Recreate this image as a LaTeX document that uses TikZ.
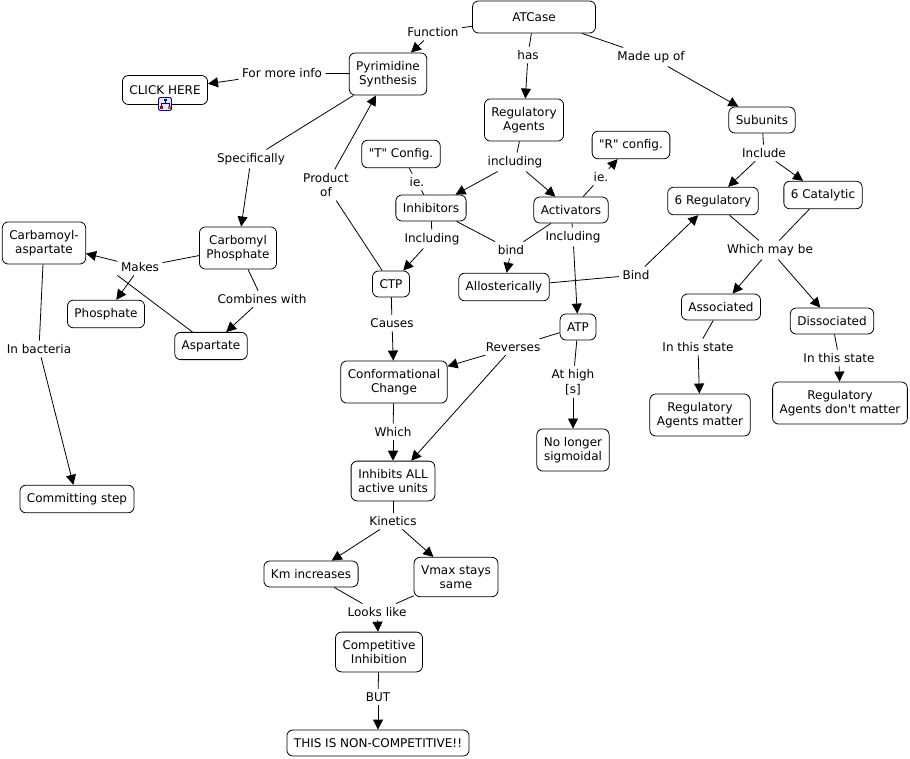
\documentclass[tikz,border=0pt]{standalone}
\usepackage{fontspec}
\setmainfont{DejaVu Sans}
\usetikzlibrary{arrows.meta}
\tikzset{
    concept-box/.style = {draw=black, fill=white, line width=0.8pt, rectangle, rounded corners=6pt, align=center, inner xsep=7pt, inner ysep=8pt, minimum height=26pt, font=\fontsize{12}{14.5}\selectfont},
    link-label/.style = {align=center, inner sep=3.5pt, font=\fontsize{12}{14.5}\selectfont},
    link-line/.style = {line width=0.8pt},
    link-arrow/.style = {line width=0.8pt, -{Triangle[length=10pt,width=10pt]}},
}

\begin{document}
\begin{tikzpicture}[x=1pt,y=-1pt]
\useasboundingbox[fill=white] (0,0) rectangle (910,758);
% concepts
\node[concept-box, minimum width=123pt, minimum height=32pt] (atcase) at (534,17) {ATCase};
\node[concept-box] (pyr) at (388,74) {Pyrimidine\\Synthesis};
\node[concept-box, minimum height=29pt] (click) at (165,90) {CLICK HERE};
\node[concept-box] (regag) at (524,120) {Regulatory\\Agents};
\node[concept-box] (subunits) at (762,120) {Subunits};
\node[concept-box] (tconf) at (401,154) {\textquotedbl T\textquotedbl{} Config.};
\node[concept-box] (rconf) at (631,145) {\textquotedbl R\textquotedbl{} config.};
\node[concept-box] (inhib) at (431,208) {Inhibitors};
\node[concept-box] (activ) at (571,210) {Activators};
\node[concept-box] (sixreg) at (713,201) {6 Regulatory};
\node[concept-box] (sixcat) at (823,195) {6 Catalytic};
\node[concept-box] (carbasp) at (44,243) {Carbamoyl-\\aspartate};
\node[concept-box] (carbph) at (238,248) {Carbomyl\\Phosphate};
\node[concept-box] (allo) at (504,287) {Allosterically};
\node[concept-box] (ctp) at (391,284) {CTP};
\node[concept-box] (phos) at (106,314) {Phosphate};
\node[concept-box] (assoc) at (721,307) {Associated};
\node[concept-box] (dissoc) at (832,321) {Dissociated};
\node[concept-box] (asp) at (211,346) {Aspartate};
\node[concept-box] (atp) at (578,327) {ATP};
\node[concept-box] (confch) at (394,382) {Conformational\\Change};
\node[concept-box] (ramatter) at (700,415) {Regulatory\\Agents matter};
\node[concept-box] (radont) at (840,403) {Regulatory\\Agents don\textquotesingle t matter};
\node[concept-box] (nosig) at (573,450) {No longer\\sigmoidal};
\node[concept-box] (inhall) at (393,481) {Inhibits ALL\\active units};
\node[concept-box] (commit) at (77,499) {Committing step};
\node[concept-box] (km) at (311,574) {Km increases};
\node[concept-box] (vmax) at (456,577) {Vmax stays\\same};
\node[concept-box] (compinh) at (379,652) {Competitive\\Inhibition};
\node[concept-box] (noncomp) at (378,743) {THIS IS NON-COMPETITIVE!!};
% link icon under CLICK HERE
\node[draw=blue!70!black, fill=blue!10, rounded corners=1.5pt, minimum size=13pt, inner sep=0pt, line width=0.8pt] (icon) at (165,104) {};
\draw[blue!50!black, line width=0.6pt] (165,101) -- (165,103) (161,103) -- (169,103) (161,103) -- (161,106) (169,103) -- (169,106);
\fill[blue!50!black] (163.5,98.5) rectangle (166.5,101);
\fill[red!70!black] (159.5,106) rectangle (162.5,109);
\fill[orange!80!black] (167.5,106) rectangle (170.5,109);
% linking phrases
\node[link-label] (function) at (433,32) {Function};
\node[link-label] (has) at (528,55) {has};
\node[link-label] (madeup) at (651,57) {Made up of};
\node[link-label] (moreinfo) at (282,73) {For more info};
\node[link-label] (specif) at (251,159) {Specifically};
\node[link-label] (incl) at (515,162) {including};
\node[link-label] (include) at (764,153) {Include};
\node[link-label] (ieT) at (417,182) {ie.};
\node[link-label] (ieR) at (601,177) {ie.};
\node[link-label] (prodof) at (326,185) {Product\\of};
\node[link-label] (inclctp) at (432,239) {Including};
\node[link-label] (inclatp) at (573,237) {Including};
\node[link-label] (bind) at (511,250) {bind};
\node[link-label] (whichmay) at (770,250) {Which may be};
\node[link-label] (makes) at (140,267) {Makes};
\node[link-label] (bindreg) at (636,275) {Bind};
\node[link-label] (combines) at (262,299) {Combines with};
\node[link-label] (causes) at (392,323) {Causes};
\node[link-label] (reverses) at (513,347) {Reverses};
\node[link-label] (bacteria) at (39,349) {In bacteria};
\node[link-label] (stateA) at (698,347) {In this state};
\node[link-label] (stateD) at (839,358) {In this state};
\node[link-label] (athigh) at (573,382) {At high\\{[s]}};
\node[link-label] (which) at (393,432) {Which};
\node[link-label] (kinetics) at (393,521) {Kinetics};
\node[link-label] (lookslike) at (377,612) {Looks like};
\node[link-label] (but) at (378,697) {BUT};
% connectors
\draw[link-line] (atcase) -- (function);
\draw[link-arrow] (function) -- (pyr);
\draw[link-line] (atcase) -- (has);
\draw[link-arrow] (has) -- (regag);
\draw[link-line] (atcase) -- (madeup);
\draw[link-arrow] (madeup) -- (subunits);
\draw[link-line] (pyr) -- (moreinfo);
\draw[link-arrow] (moreinfo) -- (click);
\draw[link-line] (pyr) -- (specif);
\draw[link-arrow] (specif) -- (carbph);
\draw[link-line] (regag) -- (incl);
\draw[link-arrow] (incl) -- (inhib);
\draw[link-arrow] (incl) -- (activ);
\draw[link-line] (subunits) -- (include);
\draw[link-arrow] (include) -- (sixreg);
\draw[link-arrow] (include) -- (sixcat);
\draw[link-line] (inhib) -- (ieT);
\draw[link-line] (ieT) -- (tconf);
\draw[link-line] (activ) -- (ieR);
\draw[link-arrow] (ieR) -- (rconf);
\draw[link-line] (ctp) -- (prodof);
\draw[link-arrow] (prodof) -- (pyr);
\draw[link-line] (inhib) -- (inclctp);
\draw[link-arrow] (inclctp) -- (ctp);
\draw[link-line] (activ) -- (inclatp);
\draw[link-arrow] (inclatp) -- (atp);
\draw[link-line] (inhib) -- (bind);
\draw[link-line] (activ) -- (bind);
\draw[link-arrow] (bind) -- (allo);
\draw[link-line] (allo) -- (bindreg);
\draw[link-arrow] (bindreg) -- (sixreg);
\draw[link-line] (sixreg) -- (whichmay);
\draw[link-line] (sixcat) -- (whichmay);
\draw[link-arrow] (whichmay) -- (assoc);
\draw[link-arrow] (whichmay) -- (dissoc);
\draw[link-line] (assoc) -- (stateA);
\draw[link-arrow] (stateA) -- (ramatter);
\draw[link-line] (dissoc) -- (stateD);
\draw[link-arrow] (stateD) -- (radont);
\draw[link-line] (carbph) -- (makes);
\draw[link-line] (asp) -- (makes.south west);
\draw[link-arrow] (makes) -- (carbasp);
\draw[link-arrow] (makes) -- (phos);
\draw[link-line] (carbph) -- (combines);
\draw[link-arrow] (combines) -- (asp);
\draw[link-line] (carbasp) -- (bacteria);
\draw[link-arrow] (bacteria) -- (commit);
\draw[link-line] (ctp) -- (causes);
\draw[link-arrow] (causes) -- (confch);
\draw[link-line] (atp) -- (reverses);
\draw[link-arrow] (reverses) -- (confch);
\draw[link-arrow] (reverses) -- (inhall);
\draw[link-line] (atp) -- (athigh);
\draw[link-arrow] (athigh) -- (nosig);
\draw[link-line] (confch) -- (which);
\draw[link-arrow] (which) -- (inhall);
\draw[link-line] (inhall) -- (kinetics);
\draw[link-arrow] (kinetics) -- (km);
\draw[link-arrow] (kinetics) -- (vmax);
\draw[link-line] (km) -- (lookslike);
\draw[link-line] (vmax) -- (lookslike);
\draw[link-arrow] (lookslike) -- (compinh);
\draw[link-line] (compinh) -- (but);
\draw[link-arrow] (but) -- (noncomp);
\end{tikzpicture}
\end{document}
